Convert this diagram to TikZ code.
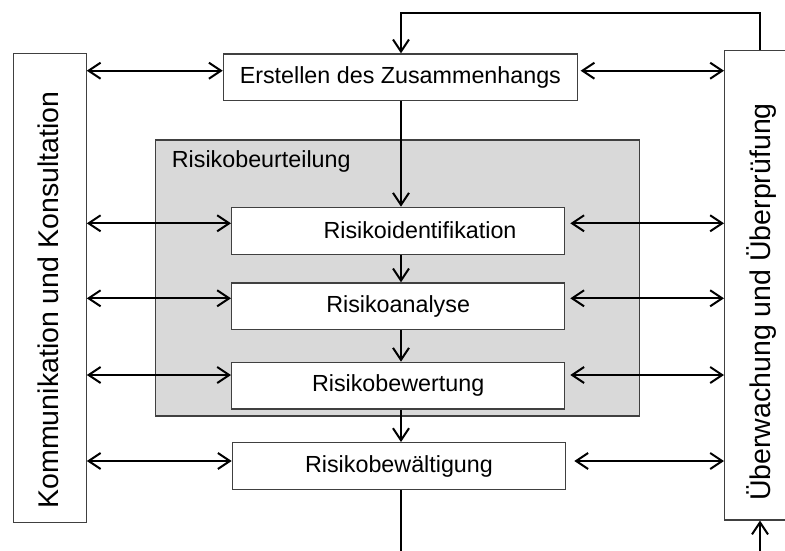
\documentclass[tikz,border=0pt]{standalone}
\usepackage{fontspec}
\setmainfont{Liberation Sans}
\usetikzlibrary{arrows.meta}
\definecolor{frame}{HTML}{404040}
\definecolor{panelgray}{HTML}{D9D9D9}
\begin{document}
\begin{tikzpicture}[x=1pt,y=-1pt,
  every node/.style={font=\fontsize{23.3}{28}\selectfont},
  sidelbl/.style={rotate=90, inner sep=0pt, font=\fontsize{28.5}{34}\selectfont},
  box/.style={draw=frame, line width=1.3pt, fill=white, inner sep=0pt, anchor=north west},
  panel/.style={draw=frame, line width=1.3pt, fill=panelgray, inner sep=0pt, anchor=north west},
  lbl/.style={inner sep=0pt},
  link/.style={line width=2pt, black},
  tip/.tip={Straight Barb[length=12pt,width=16pt]},
  both/.style={link, tip-tip},
  one/.style={link, -tip}
]
\clip (0,0) rectangle (785,550);
\useasboundingbox (0,0) rectangle (785,550);

% side columns
\node[box, minimum width=73pt, minimum height=469pt] (kom) at (12.5,53) {};
\node[sidelbl] at (48.5,300) {Kommunikation und Konsultation};
\node[box, minimum width=75pt, minimum height=469.3pt] (ueb) at (724,50) {};
\node[sidelbl] at (762,302) {Überwachung und Überprüfung};

% context step
\node[box, minimum width=354pt, minimum height=46.7pt] (erst) at (222.7,53.3) {Erstellen des Zusammenhangs};

% risk assessment panel
\node[panel, minimum width=483.7pt, minimum height=276pt] (beurt) at (155,139.3) {};
\node[lbl, anchor=west] (beurtlbl) at (171.7,161) {Risikobeurteilung};

\node[box, minimum width=333pt, minimum height=47.3pt] (ident) at (231,206.7) {};
\node[lbl] at (420,230.3) {Risikoidentifikation};
\node[box, minimum width=333pt, minimum height=46.7pt] (anal) at (231,282.3) {Risikoanalyse};
\node[box, minimum width=333pt, minimum height=46.7pt] (bewe) at (231,361.7) {Risikobewertung};

% treatment step
\node[box, minimum width=333.3pt, minimum height=46.7pt] (bewa) at (231.7,442) {Risikobewältigung};

% helper coordinates
\coordinate (xc) at (401,0);
\coordinate (xr) at (760,0);
\coordinate (ytop) at (0,13.3);
\coordinate (ybot) at (0,560);
\coordinate (yE) at (0,70.7);
\coordinate (yI) at (0,223.3);
\coordinate (yA) at (0,298.3);
\coordinate (yB) at (0,375);
\coordinate (yW) at (0,461);

% communication links
\draw[both] (kom.east |- yE) -- (erst.west |- yE);
\draw[both] (kom.east |- yI) -- (ident.west |- yI);
\draw[both] (kom.east |- yA) -- (anal.west |- yA);
\draw[both] (kom.east |- yB) -- (bewe.west |- yB);
\draw[both] (kom.east |- yW) -- (bewa.west |- yW);

% monitoring links
\draw[both, shorten <=2.6pt] (erst.east |- yE) -- (ueb.west |- yE);
\draw[both, shorten <=5pt] (ident.east |- yI) -- (ueb.west |- yI);
\draw[both, shorten <=5pt] (anal.east |- yA) -- (ueb.west |- yA);
\draw[both, shorten <=5pt] (bewe.east |- yB) -- (ueb.west |- yB);
\draw[both, shorten <=8pt] (bewa.east |- yW) -- (ueb.west |- yW);

% process flow
\draw[one] (erst.south -| xc) -- (ident.north -| xc);
\draw[one] (ident.south -| xc) -- (anal.north -| xc);
\draw[one] (anal.south -| xc) -- (bewe.north -| xc);
\draw[one] (bewe.south -| xc) -- (bewa.north -| xc);
\draw[link] (bewa.south -| xc) -- (xc |- ybot);

% feedback loop
\draw[one] (ueb.north -| xr) -- (xr |- ytop) -- (xc |- ytop) -- (erst.north -| xc);
\draw[one] (xr |- ybot) -- (ueb.south -| xr);
\end{tikzpicture}
\end{document}
